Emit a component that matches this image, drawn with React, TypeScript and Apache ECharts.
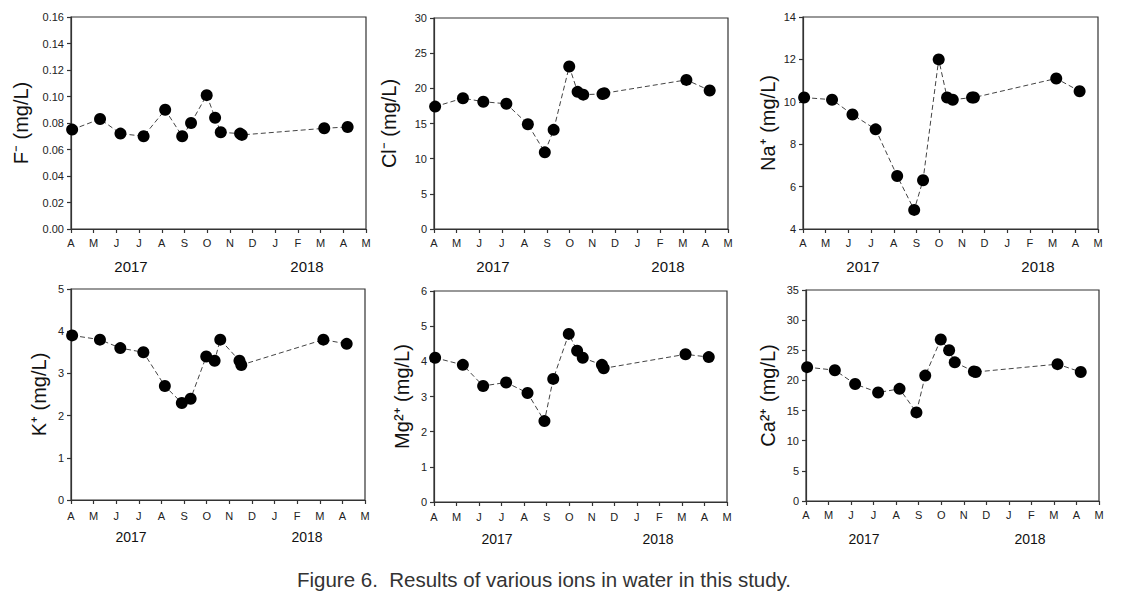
import React, { useEffect, useRef } from "react";
import * as echarts from "echarts";

// Month tick labels (Apr 2017 .. May 2018)
const monthLabels = ["A", "M", "J", "J", "A", "S", "O", "N", "D", "J", "F", "M", "A", "M"];
const yearLabels = ["2017", "2018"];

// Sampling dates in months since 1 Apr 2017
const sampleMonths = [0.05, 1.28, 2.18, 3.2, 4.15, 4.9, 5.29, 5.98, 6.35, 6.6, 7.45, 7.53, 11.16, 12.19];

const fluoride = [0.075, 0.083, 0.072, 0.070, 0.090, 0.070, 0.080, 0.101, 0.084, 0.073, 0.072, 0.071, 0.076, 0.077];
const chloride = [17.4, 18.6, 18.1, 17.8, 14.9, 10.9, 14.1, 23.1, 19.5, 19.1, 19.2, 19.3, 21.2, 19.7];
const sodium = [10.2, 10.1, 9.4, 8.7, 6.5, 4.9, 6.3, 12.0, 10.2, 10.1, 10.2, 10.2, 11.1, 10.5];
const potassium = [3.9, 3.8, 3.6, 3.5, 2.7, 2.3, 2.4, 3.4, 3.3, 3.8, 3.3, 3.2, 3.8, 3.7];
const magnesium = [4.1, 3.9, 3.3, 3.4, 3.1, 2.3, 3.5, 4.78, 4.3, 4.1, 3.9, 3.8, 4.2, 4.12];
const calcium = [22.2, 21.7, 19.4, 18.0, 18.6, 14.7, 20.8, 26.8, 25.0, 23.0, 21.5, 21.4, 22.7, 21.4];

const yNames = ["F\u207B (mg/L)", "Cl\u207B (mg/L)", "Na\u207A (mg/L)", "K\u207A (mg/L)", "Mg\u00B2\u207A (mg/L)", "Ca\u00B2\u207A (mg/L)"];
const yMins = [0, 0, 4, 0, 0, 0];
const yMaxs = [0.16, 30, 14, 5, 6, 35];
const yIntervals = [0.02, 5, 2, 1, 1, 5];
const yDecimals = [2, 0, 0, 0, 0, 0];
const caption = "Figure 6.  Results of various ions in water in this study.";

const FONT = "'Liberation Sans', Arial, Helvetica, sans-serif";

export default function App() {
  const ref = useRef<HTMLDivElement>(null);
  useEffect(() => {
    if (!ref.current) return;
    const chart = echarts.init(ref.current, undefined, { renderer: "svg" });
    const seriesData = [fluoride, chloride, sodium, potassium, magnesium, calcium];
    const grids = [
      { left: 71, top: 17, width: 295, height: 212 },
      { left: 434, top: 18, width: 294, height: 211 },
      { left: 803, top: 17, width: 295, height: 212 },
      { left: 71, top: 289, width: 294, height: 211 },
      { left: 434, top: 291, width: 293, height: 211 },
      { left: 806, top: 290, width: 293, height: 211 },
    ];
    const nameGaps = [40, 35, 25, 22, 22, 28];
    const labelMargins = [8, 8, 8, 10, 9, 8];
    const yearY = [259, 259, 259, 530, 532, 532];
    const yearX = [
      [60, 236],
      [59, 234],
      [60, 235],
      [60, 236],
      [63, 224],
      [58, 224],
    ];
    const axisColor = "#333";
    const option: any = {
      animation: false,
      backgroundColor: "#fff",
      grid: grids.map((g) => ({ ...g, show: true, borderColor: axisColor, borderWidth: 1.2, backgroundColor: "transparent" })),
      xAxis: grids.map((_, i) => ({
        type: "value",
        gridIndex: i,
        min: 0,
        max: 13,
        interval: 1,
        splitLine: { show: false },
        axisLine: { show: true, onZero: false, lineStyle: { color: axisColor, width: 1.2 } },
        axisTick: { show: true, inside: false, length: 4, lineStyle: { color: axisColor, width: 1.2 } },
        axisLabel: {
          margin: labelMargins[i],
          fontSize: 11,
          fontFamily: FONT,
          color: "#222",
          showMinLabel: true,
          showMaxLabel: true,
          formatter: (v: number) => monthLabels[Math.round(v)] ?? "",
        },
      })),
      yAxis: grids.map((_, i) => ({
        type: "value",
        gridIndex: i,
        min: yMins[i],
        max: yMaxs[i],
        interval: yIntervals[i],
        splitLine: { show: false },
        axisLine: { show: true, onZero: false, lineStyle: { color: axisColor, width: 1.2 } },
        axisTick: { show: true, inside: false, length: 4, lineStyle: { color: axisColor, width: 1.2 } },
        axisLabel: {
          margin: 7,
          fontSize: 11,
          fontFamily: FONT,
          color: "#222",
          formatter: (v: number) => v.toFixed(yDecimals[i]),
        },
        name: yNames[i],
        nameLocation: "middle",
        nameRotate: 90,
        nameGap: nameGaps[i],
        nameTextStyle: { fontSize: 20, fontFamily: FONT, color: "#111" },
      })),
      series: seriesData.map((vals, i) => ({
        type: "line",
        xAxisIndex: i,
        yAxisIndex: i,
        data: sampleMonths.map((m, j) => [m, vals[j]]),
        symbol: "circle",
        symbolSize: 12,
        itemStyle: { color: "#000" },
        lineStyle: { color: "#444", width: 1, type: [5, 3] },
        silent: true,
      })),
      graphic: [
        ...grids.flatMap((g, i) =>
          yearLabels.map((t, k) => ({
            type: "text",
            x: g.left + yearX[i][k],
            y: yearY[i],
            style: {
              text: t,
              fontSize: i < 3 ? 15 : 14,
              fontFamily: FONT,
              fill: "#111",
              textAlign: "center",
              textVerticalAlign: "top",
            },
          }))
        ),
        {
          type: "text",
          x: 544,
          y: 569,
          style: {
            text: caption,
            fontSize: 20.5,
            fontFamily: FONT,
            fill: "#333",
            textAlign: "center",
            textVerticalAlign: "top",
          },
        },
      ],
    };
    chart.setOption(option);
    return () => chart.dispose();
  }, []);
  return (
    <div
      ref={ref}
      style={{ position: "absolute", left: 0, top: 0, width: 1123, height: 596, background: "#fff" }}
    />
  );
}
